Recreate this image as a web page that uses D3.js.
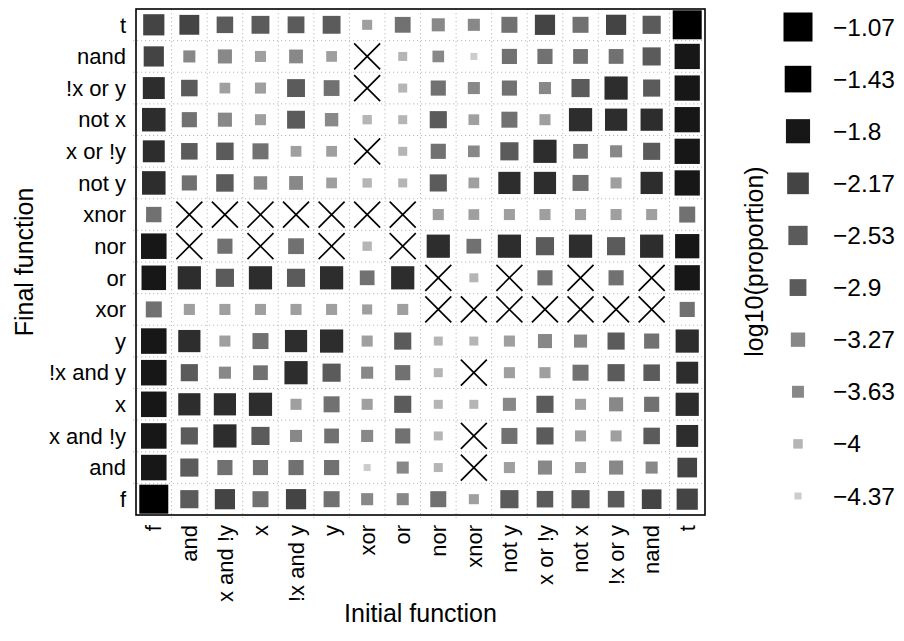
<!DOCTYPE html>
<html>
<head>
<meta charset="utf-8">
<script src="https://cdn.jsdelivr.net/npm/d3@7"></script>
<style>
  html, body { margin: 0; padding: 0; background: #fff; }
  text { font-family: "Liberation Sans", Arial, sans-serif; fill: #000; }
</style>
</head>
<body>
<svg id="chart" width="904" height="641"></svg>
<script>
// ---- data ----
const functions = ["f","and","x and !y","x","!x and y","y","xor","or","nor","xnor","not y","x or !y","not x","!x or y","nand","t"];

// log10(proportion); rows = final function (same order as `functions`), cols = initial function; null = impossible (X)
const rowF       = [-1.07,-2.70,-2.39,-3.02,-2.39,-3.02,-3.61,-3.61,-3.02,-3.91,-2.70,-2.94,-2.70,-2.94,-2.47,-2.24];
const rowAnd     = [-1.59,-2.70,-3.15,-3.15,-3.15,-3.15,-4.37,-3.61,-4.07, null,-3.76,-3.31,-3.76,-3.31,-3.61,-2.47];
const rowXandNY  = [-1.59,-2.85,-1.94,-2.70,-3.61,-3.21,-3.61,-3.15,-4.07, null,-3.02,-2.85,-3.76,-3.76,-2.94,-2.13];
const rowX       = [-1.59,-2.09,-2.09,-1.94,-3.76,-3.02,-3.76,-2.85,-4.07,-4.07,-3.46,-2.85,-3.76,-3.31,-3.15,-1.94];
const rowNXandY  = [-1.59,-2.85,-3.61,-3.21,-1.94,-2.70,-3.61,-3.15,-4.07, null,-3.76,-3.76,-3.02,-2.85,-2.94,-2.13];
const rowY       = [-1.59,-2.09,-3.76,-3.02,-2.09,-1.94,-3.76,-2.85,-4.07,-4.07,-3.76,-3.31,-3.46,-2.85,-3.15,-1.94];
const rowXor     = [-3.02,-3.76,-3.76,-3.76,-3.76,-3.76,-3.91,-3.76, null, null, null, null, null, null, null,-3.15];
const rowOr      = [-1.74,-1.94,-2.70,-1.94,-2.70,-1.94,-3.21,-1.94, null,-4.07, null,-3.15, null,-3.15, null,-1.63];
const rowNor     = [-1.59, null,-3.15, null,-3.05, null,-4.02, null,-1.94,-3.21,-1.94,-2.70,-1.94,-2.70,-1.94,-1.78];
const rowXnor    = [-3.11, null, null, null, null, null, null, null,-3.76,-3.81,-3.76,-3.76,-3.76,-3.76,-3.76,-3.02];
const rowNotY    = [-1.89,-3.15,-2.80,-3.41,-3.35,-3.81,-4.02,-4.07,-2.85,-3.81,-2.09,-2.09,-3.02,-3.76,-2.09,-1.63];
const rowXorNY   = [-2.13,-2.94,-2.80,-3.02,-3.81,-3.81, null,-4.07,-3.15,-3.67,-2.70,-1.94,-3.21,-3.61,-2.85,-1.63];
const rowNotX    = [-1.89,-3.15,-3.31,-3.76,-2.74,-3.41,-4.02,-4.07,-2.85,-3.81,-3.02,-3.76,-1.94,-2.09,-2.09,-1.63];
const rowNXorY   = [-2.13,-2.94,-3.81,-3.76,-2.74,-3.05, null,-4.07,-3.15,-3.61,-3.15,-3.61,-2.70,-1.94,-2.85,-1.63];
const rowNand    = [-2.39,-3.61,-3.31,-3.76,-3.35,-3.81, null,-4.07,-3.67,-4.37,-3.15,-3.15,-3.20,-3.20,-2.70,-1.63];
const rowT       = [-2.24,-2.44,-2.94,-2.74,-2.90,-2.74,-3.91,-3.05,-3.46,-3.61,-3.02,-2.39,-3.02,-2.39,-2.70,-1.07];

const valueRows = [rowF,rowAnd,rowXandNY,rowX,rowNXandY,rowY,rowXor,rowOr,rowNor,rowXnor,rowNotY,rowXorNY,rowNotX,rowNXorY,rowNand,rowT];

const legendValues = [-1.07,-1.43,-1.8,-2.17,-2.53,-2.9,-3.27,-3.63,-4,-4.37];
const legendLabels = ["\u22121.07","\u22121.43","\u22121.8","\u22122.17","\u22122.53","\u22122.9","\u22123.27","\u22123.63","\u22124","\u22124.37"];

const xTitle = "Initial function";
const yTitle = "Final function";
const legendTitle = "log10(proportion)";

// ---- styles / layout ----
const grays = ["#cccccc","#b5b5b5","#9f9f9f","#888888","#717171","#5b5b5b","#444444","#2d2d2d","#171717","#000000"];
const grayBreaks = [-4.218,-3.959,-3.686,-3.245,-2.971,-2.500,-2.150,-1.846,-1.542];
const P = {x0:136, x1:705, y0:9, y1:515};

const svg = d3.select("#chart");

const x = d3.scaleBand().domain(functions).range([P.x0, P.x1]).padding(0);
const y = d3.scaleBand().domain(functions.slice().reverse()).range([P.y0, P.y1]).padding(0);
const size = d3.scaleLinear().domain([-4.37, -1.07]).range([7, 29]);
const color = d3.scaleThreshold().domain(grayBreaks).range(grays);

const cells = [];
valueRows.forEach((row, ri) => row.forEach((v, ci) => cells.push({fin: functions[ri], ini: functions[ci], v})));

const cx = d => x(d.ini) + x.bandwidth()/2;
const cy = d => y(d.fin) + y.bandwidth()/2;

// squares
svg.append("g").selectAll("rect").data(cells.filter(d => d.v !== null)).join("rect")
  .attr("x", d => cx(d) - size(d.v)/2)
  .attr("y", d => cy(d) - size(d.v)/2)
  .attr("width", d => size(d.v))
  .attr("height", d => size(d.v))
  .attr("fill", d => color(d.v));

// X marks
const hx = 13, hy = 13;
const xm = svg.append("g").attr("stroke", "#000").attr("stroke-width", 1.6)
  .selectAll("g").data(cells.filter(d => d.v === null)).join("g");
xm.append("line").attr("x1", d => cx(d)-hx).attr("y1", d => cy(d)-hy).attr("x2", d => cx(d)+hx).attr("y2", d => cy(d)+hy);
xm.append("line").attr("x1", d => cx(d)-hx).attr("y1", d => cy(d)+hy).attr("x2", d => cx(d)+hx).attr("y2", d => cy(d)-hy);

// dotted grid at cell boundaries
const grid = svg.append("g").attr("stroke", "#bbbbbb").attr("stroke-width", 1).attr("stroke-dasharray", "1.2,2.8");
grid.selectAll("line.v").data(functions.slice(1)).join("line").attr("class","v")
  .attr("x1", d => x(d)).attr("x2", d => x(d)).attr("y1", P.y0).attr("y2", P.y1 + 3);
grid.selectAll("line.h").data(functions.slice(1)).join("line").attr("class","h")
  .attr("y1", d => y(d) + y.bandwidth()).attr("y2", d => y(d) + y.bandwidth()).attr("x1", P.x0 - 3).attr("x2", P.x1);

// panel border
svg.append("rect").attr("x", P.x0).attr("y", P.y0).attr("width", P.x1 - P.x0).attr("height", P.y1 - P.y0)
  .attr("fill", "none").attr("stroke", "#000").attr("stroke-width", 1.6);

// axes
const ax = svg.append("g").attr("transform", `translate(0,${P.y1})`)
  .call(d3.axisBottom(x).tickSize(0));
ax.select(".domain").remove();
ax.selectAll("text")
  .attr("transform", "rotate(-90)")
  .attr("text-anchor", "end")
  .attr("x", -10).attr("y", 0).attr("dy", "0.35em")
  .style("font-size", "22px").style("font-family", "'Liberation Sans', Arial, sans-serif").attr("fill", "#000");

const ay = svg.append("g").attr("transform", `translate(${P.x0},0)`)
  .call(d3.axisLeft(y).tickSize(0).tickPadding(10));
ay.select(".domain").remove();
ay.selectAll("text")
  .attr("dy", "0.35em")
  .style("font-size", "22px").style("font-family", "'Liberation Sans', Arial, sans-serif").attr("fill", "#000");

// titles
svg.append("text").attr("x", (P.x0 + P.x1)/2).attr("y", 622).attr("text-anchor", "middle")
  .style("font-size", "25px").text(xTitle);
svg.append("text").attr("transform", `translate(33,${(P.y0 + P.y1)/2}) rotate(-90)`).attr("text-anchor", "middle")
  .style("font-size", "25px").text(yTitle);

// legend
const ly = d3.scalePoint().domain(legendValues).range([27, 496]);
const lg = svg.append("g");
lg.selectAll("rect").data(legendValues).join("rect")
  .attr("x", d => 798 - size(d)/2).attr("y", d => ly(d) - size(d)/2)
  .attr("width", d => size(d)).attr("height", d => size(d))
  .attr("fill", d => color(d));
lg.selectAll("text").data(legendValues).join("text")
  .attr("x", 833).attr("y", d => ly(d)).attr("dy", "0.35em")
  .style("font-size", "24.5px")
  .text((d, i) => legendLabels[i]);
svg.append("text").attr("transform", `translate(763,${(27 + 496)/2}) rotate(-90)`).attr("text-anchor", "middle")
  .style("font-size", "25px").text(legendTitle);
</script>
</body>
</html>
